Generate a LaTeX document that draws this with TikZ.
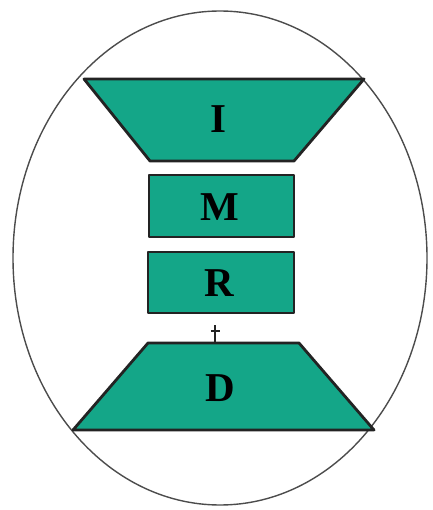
\documentclass[tikz,border=0pt]{standalone}
\usepackage{fontspec}
\setmainfont{Liberation Serif}
\definecolor{tealfill}{RGB}{20,166,136}
\definecolor{outl}{RGB}{35,35,35}
\begin{document}
\begin{tikzpicture}[x=1pt,y=-1pt,
  part/.style={fill=tealfill,draw=outl,line width=2.8pt,line join=round},
  lbl/.style={font=\fontsize{41}{41}\selectfont\bfseries,text=black,inner sep=0pt}]
\useasboundingbox (0,0) rectangle (432,510);
% outer ellipse
\draw[draw=black!70,line width=1.4pt] (220,258) ellipse [x radius=207, y radius=247];
% I trapezoid
\draw[part] (84,79) -- (364,79) -- (294,161) -- (150,161) -- cycle;
\node[lbl] (I) at (218,119) {I};
% M box
\draw[part] (149,175) rectangle (294,237);
\node[lbl] (M) at (220,207) {M};
% R box
\draw[part] (148,252) rectangle (294,313);
\node[lbl] (R) at (219,283) {R};
% D trapezoid
\draw[part] (148,343) -- (299,343) -- (374,430) -- (73,430) -- cycle;
\node[lbl] (D) at (220,388) {D};
% plus marker
\coordinate (pt) at (215,325);
\coordinate (pb) at (215,343);
\draw[outl,line width=1.8pt] (pt) -- (pb);
\draw[outl,line width=2pt] (210.5,330.5) -- (219.5,330.5);
\end{tikzpicture}
\end{document}
